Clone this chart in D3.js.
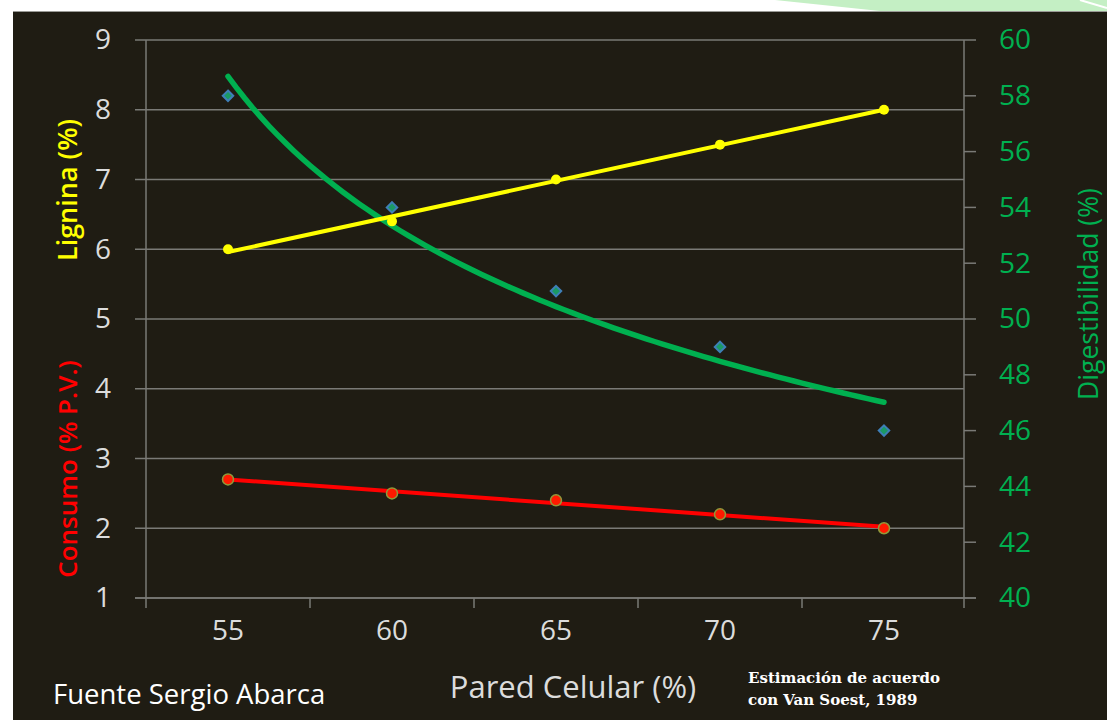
<!DOCTYPE html>
<html>
<head>
<meta charset="utf-8">
<script src="https://cdn.jsdelivr.net/npm/d3@7"></script>
<style>
  html, body { margin: 0; padding: 0; background: #ffffff; }
  svg { display: block; }
</style>
</head>
<body>
<svg id="chart" width="1107" height="720"></svg>
<script>
// datos
var pared = [55, 60, 65, 70, 75];
var lignina = [6, 6.4, 7, 7.5, 8];
var consumo = [2.7, 2.5, 2.4, 2.2, 2.0];
var digest = [58, 54, 51, 49, 46];
var ticksLeft = [1, 2, 3, 4, 5, 6, 7, 8, 9];
var ticksRight = [40, 42, 44, 46, 48, 50, 52, 54, 56, 58, 60];

var bg = "#1f1c13";
var gridColor = "#7a7a76";
var txtColor = "#dcdcdc";
var green = "#00b050";

var svg = d3.select("#chart");

// fondo de la diapositiva
svg.append("rect").attr("x", 0).attr("y", 0).attr("width", 1107).attr("height", 720).attr("fill", "#ffffff");
svg.append("polygon").attr("points", "775,0 1107,0 1107,11 880,11").attr("fill", "#c4efc4");
svg.append("line").attr("x1", 1080).attr("y1", 0).attr("x2", 1107).attr("y2", 8).attr("stroke", "#ffffff").attr("stroke-width", 2);
svg.append("rect").attr("x", 13).attr("y", 11).attr("width", 1094).attr("height", 709).attr("fill", bg);
svg.append("line").attr("x1", 13).attr("y1", 11.5).attr("x2", 1107).attr("y2", 11.5).attr("stroke", "#9a9a96").attr("stroke-width", 1);

var pLeft = 146, pRight = 964, pTop = 40, pBottom = 598;

var x = d3.scaleBand().domain(pared).range([pLeft, pRight + 2]);
var yL = d3.scaleLinear().domain([1, 9]).range([pBottom, pTop]);
var yR = d3.scaleLinear().domain([40, 60]).range([pBottom, pTop]);
var cx = function(i) { return x(pared[i]) + x.bandwidth() / 2; };

// lineas de la grilla
svg.append("g").selectAll("line").data(ticksLeft).enter().append("line")
  .attr("x1", pLeft - 11).attr("x2", pRight)
  .attr("y1", function(d) { return yL(d); }).attr("y2", function(d) { return yL(d); })
  .attr("stroke", gridColor).attr("stroke-width", 1.5);

// ejes verticales
svg.append("line").attr("x1", pLeft).attr("x2", pLeft).attr("y1", pTop).attr("y2", pBottom)
  .attr("stroke", gridColor).attr("stroke-width", 1.5);
svg.append("line").attr("x1", pRight).attr("x2", pRight).attr("y1", pTop).attr("y2", pBottom + 10)
  .attr("stroke", gridColor).attr("stroke-width", 1.5);
svg.append("line").attr("x1", pLeft - 11).attr("x2", pRight + 12).attr("y1", pBottom).attr("y2", pBottom)
  .attr("stroke", gridColor).attr("stroke-width", 1.5);

// marcas del eje derecho
svg.append("g").selectAll("line").data(ticksRight).enter().append("line")
  .attr("x1", pRight).attr("x2", pRight + 12)
  .attr("y1", function(d) { return yR(d); }).attr("y2", function(d) { return yR(d); })
  .attr("stroke", gridColor).attr("stroke-width", 1.5);

// marcas del eje x (limites de categorias)
var bounds = pared.map(function(d) { return x(d); });
svg.append("g").selectAll("line").data(bounds).enter().append("line")
  .attr("x1", function(d) { return d; }).attr("x2", function(d) { return d; })
  .attr("y1", pBottom).attr("y2", pBottom + 10)
  .attr("stroke", gridColor).attr("stroke-width", 1.5);

// etiquetas con los ejes de d3
var axL = svg.append("g").attr("transform", "translate(" + (pLeft - 8) + ",0)")
  .call(d3.axisLeft(yL).tickValues(ticksLeft).tickSize(0).tickPadding(27));
var axR = svg.append("g").attr("transform", "translate(" + pRight + ",0)")
  .call(d3.axisRight(yR).tickValues(ticksRight).tickSize(0).tickPadding(35));
var axB = svg.append("g").attr("transform", "translate(0," + pBottom + ")")
  .call(d3.axisBottom(x).tickSize(0).tickPadding(22));
[axL, axR, axB].forEach(function(a) {
  a.select(".domain").remove();
  a.selectAll("text").attr("font-family", "Open Sans").attr("font-size", 28);
});
axL.selectAll("text").attr("fill", txtColor);
axB.selectAll("text").attr("fill", txtColor);
axR.selectAll("text").attr("fill", green);

// lineas de tendencia (lineal y potencial, como en Excel)
function linFit(ys) {
  var n = ys.length, mx = (n - 1) / 2, my = d3.mean(ys), sxy = 0, sxx = 0;
  ys.forEach(function(v, i) { sxy += (i - mx) * (v - my); sxx += (i - mx) * (i - mx); });
  var b = sxy / sxx;
  return function(i) { return my + b * (i - mx); };
}
function powFit(ys) {
  var lx = ys.map(function(v, i) { return Math.log(i + 1); });
  var ly = ys.map(function(v) { return Math.log(v); });
  var mlx = d3.mean(lx), mly = d3.mean(ly), sxy = 0, sxx = 0;
  ys.forEach(function(v, i) { sxy += (lx[i] - mlx) * (ly[i] - mly); sxx += (lx[i] - mlx) * (lx[i] - mlx); });
  var b = sxy / sxx, a = Math.exp(mly - b * mlx);
  return function(i) { return a * Math.pow(i + 1, b); };
}

var ligFit = linFit(lignina);
var conFit = linFit(consumo);
var digFit = powFit(digest);

var steps = d3.range(0, 4.0001, 0.05);
var lineL = d3.line().x(function(t) { return x(pared[0]) + x.bandwidth() / 2 + t * x.bandwidth(); });

svg.append("path").datum(steps)
  .attr("d", lineL.y(function(t) { return yR(digFit(t)); }))
  .attr("fill", "none").attr("stroke", green).attr("stroke-width", 5.5).attr("stroke-linecap", "round");

svg.append("path").datum([0, 4])
  .attr("d", lineL.y(function(t) { return yL(ligFit(t)); }))
  .attr("fill", "none").attr("stroke", "#ffff00").attr("stroke-width", 4).attr("stroke-linecap", "round");

svg.append("path").datum([0, 4])
  .attr("d", lineL.y(function(t) { return yL(conFit(t)); }))
  .attr("fill", "none").attr("stroke", "#ff0000").attr("stroke-width", 4).attr("stroke-linecap", "round");

// puntos
svg.append("g").selectAll("path").data(digest).enter().append("path")
  .attr("d", d3.symbol().type(d3.symbolDiamond2).size(70))
  .attr("transform", function(d, i) { return "translate(" + cx(i) + "," + yR(d) + ")"; })
  .attr("fill", "#1a9a64").attr("stroke", "#3e7fb8").attr("stroke-width", 2);

svg.append("g").selectAll("circle").data(lignina).enter().append("circle")
  .attr("cx", function(d, i) { return cx(i); }).attr("cy", function(d) { return yL(d); })
  .attr("r", 5).attr("fill", "#ffff00");

svg.append("g").selectAll("circle").data(consumo).enter().append("circle")
  .attr("cx", function(d, i) { return cx(i); }).attr("cy", function(d) { return yL(d); })
  .attr("r", 5.5).attr("fill", "#ff1a00").attr("stroke", "#8f9a3a").attr("stroke-width", 1.5);

// titulos de los ejes
svg.append("text").attr("transform", "translate(77,190) rotate(-90)")
  .attr("text-anchor", "middle").attr("font-family", "Open Sans").attr("font-weight", 600)
  .attr("font-size", 27).attr("fill", "#ffff00").text("Lignina (%)");
svg.append("text").attr("transform", "translate(77,469) rotate(-90)")
  .attr("text-anchor", "middle").attr("font-family", "Open Sans").attr("font-weight", 600)
  .attr("font-size", 26).attr("fill", "#ff0000").text("Consumo (% P.V.)");
svg.append("text").attr("transform", "translate(1098,294) rotate(-90)")
  .attr("text-anchor", "middle").attr("font-family", "Open Sans")
  .attr("font-size", 26.5).attr("fill", green).text("Digestibilidad (%)");

svg.append("text").attr("x", 573).attr("y", 698)
  .attr("text-anchor", "middle").attr("font-family", "Open Sans")
  .attr("font-size", 31).attr("fill", txtColor).text("Pared Celular (%)");

svg.append("text").attr("x", 53).attr("y", 704)
  .attr("font-family", "Open Sans").attr("font-size", 27.5).attr("fill", "#ffffff").text("Fuente Sergio Abarca");

svg.append("text").attr("x", 748).attr("y", 683)
  .attr("font-family", "DejaVu Serif").attr("font-weight", "bold")
  .attr("font-size", 15).attr("fill", "#ffffff").text("Estimación de acuerdo");
svg.append("text").attr("x", 748).attr("y", 705)
  .attr("font-family", "DejaVu Serif").attr("font-weight", "bold")
  .attr("font-size", 15).attr("fill", "#ffffff").text("con Van Soest, 1989");
</script>
</body>
</html>
